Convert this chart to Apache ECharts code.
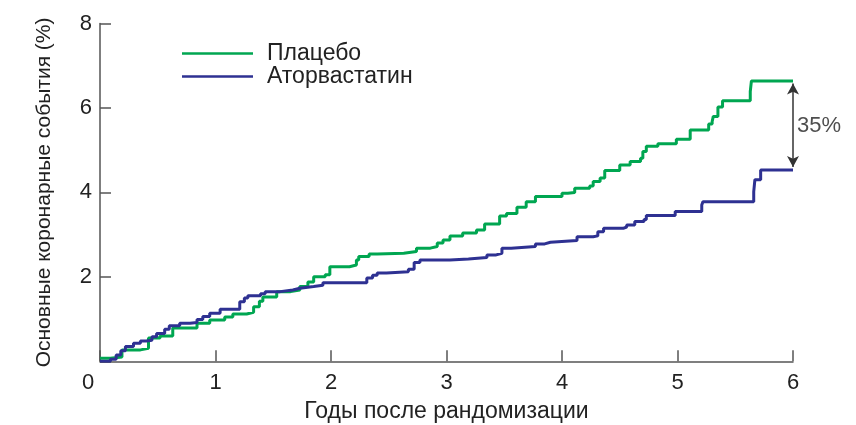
<!DOCTYPE html>
<html>
<head>
<meta charset="utf-8">
<script src="https://cdn.jsdelivr.net/npm/echarts@6/dist/echarts.min.js"></script>
<style>html,body{margin:0;padding:0;background:#fff}#c{width:856px;height:425px}</style>
</head>
<body>
<div id="c"></div>
<script>
const seriesNames = ['Плацебо', 'Аторвастатин'];
const xTicks = [0, 1, 2, 3, 4, 5, 6];
const yTicks = [0, 2, 4, 6, 8];
const placebo = [[0,0.07],[0.09,0.1],[0.19,0.27],[0.35,0.31],[0.42,0.55],[0.52,0.6],[0.63,0.79],[0.84,0.9],[0.95,0.98],[1.08,1.05],[1.15,1.12],[1.27,1.16],[1.33,1.29],[1.38,1.42],[1.41,1.52],[1.53,1.65],[1.65,1.69],[1.73,1.77],[1.8,1.88],[1.85,2.0],[1.95,2.05],[1.99,2.24],[2.16,2.28],[2.22,2.4],[2.24,2.48],[2.33,2.54],[2.4,2.56],[2.63,2.6],[2.74,2.68],[2.86,2.72],[2.92,2.8],[2.97,2.87],[3.03,2.97],[3.14,3.04],[3.26,3.11],[3.33,3.25],[3.46,3.44],[3.52,3.5],[3.61,3.65],[3.69,3.78],[3.77,3.9],[4.0,3.98],[4.05,4.0],[4.11,4.1],[4.24,4.15],[4.27,4.26],[4.33,4.34],[4.37,4.52],[4.5,4.65],[4.59,4.73],[4.68,4.81],[4.7,4.97],[4.73,5.09],[4.83,5.15],[4.99,5.26],[5.11,5.48],[5.27,5.62],[5.3,5.68],[5.31,5.8],[5.35,6.02],[5.39,6.17],[5.63,6.39],[5.64,6.64],[6.0,6.64]];
const atorvastatin = [[0,0],[0.09,0.05],[0.14,0.15],[0.18,0.25],[0.22,0.35],[0.29,0.43],[0.35,0.48],[0.4,0.5],[0.45,0.58],[0.49,0.66],[0.56,0.76],[0.6,0.84],[0.69,0.9],[0.78,0.92],[0.84,0.99],[0.89,1.06],[0.95,1.14],[1.04,1.23],[1.21,1.41],[1.25,1.5],[1.28,1.55],[1.39,1.6],[1.43,1.65],[1.56,1.69],[1.67,1.73],[1.73,1.77],[1.85,1.8],[1.93,1.86],[2.31,1.97],[2.36,2.04],[2.4,2.09],[2.48,2.12],[2.67,2.18],[2.72,2.34],[2.77,2.4],[3.03,2.42],[3.19,2.46],[3.35,2.52],[3.43,2.56],[3.48,2.68],[3.56,2.72],[3.77,2.78],[3.85,2.82],[3.9,2.86],[4.13,2.95],[4.27,2.97],[4.31,3.07],[4.36,3.15],[4.53,3.18],[4.56,3.23],[4.63,3.31],[4.71,3.36],[4.73,3.45],[4.98,3.55],[5.21,3.7],[5.22,3.78],[5.66,4.02],[5.67,4.3],[5.72,4.53],[6.0,4.53]];
const gapArrow = [[6, 6.58], [6, 4.6]];
const gapLabel = [[6, 5.58, '35%']];

const FONT = '"Liberation Sans", Arial, Helvetica, sans-serif';
const TXT = '#222';
const chart = echarts.init(document.getElementById('c'));
chart.setOption({
  animation: false,
  backgroundColor: '#fff',
  textStyle: { fontFamily: FONT },
  grid: { left: 100, right: 63, top: 23.5, bottom: 63.7, containLabel: false, outerBoundsMode: 'none' },
  legend: {
    orient: 'vertical', left: 177, top: 37,
    itemWidth: 71, itemHeight: 2.5, itemGap: 0,
    icon: 'rect',
    textStyle: { fontSize: 23, color: TXT, fontFamily: FONT, padding: [0, 0, 0, 9] },
    data: seriesNames
  },
  xAxis: {
    type: 'value', min: xTicks[0], max: xTicks[xTicks.length - 1], interval: 1,
    name: 'Годы после рандомизации', nameLocation: 'middle', nameGap: 39,
    nameTextStyle: { fontSize: 23, color: TXT, fontFamily: FONT },
    axisLine: { show: true, lineStyle: { color: '#555', width: 1.5 } },
    axisTick: { show: true, inside: true, length: 11, lineStyle: { color: '#555', width: 1.5 } },
    axisLabel: {
      fontSize: 22, color: TXT, margin: 11, fontFamily: FONT,
      formatter: v => v === 0 ? '{z|0}' : String(v),
      rich: { z: { fontSize: 22, color: TXT, fontFamily: FONT, padding: [0, 24, 0, 0] } }
    },
    splitLine: { show: false }
  },
  yAxis: {
    type: 'value', min: yTicks[0], max: yTicks[yTicks.length - 1], interval: 2,
    name: 'Основные коронарные события (%)', nameLocation: 'middle', nameGap: 45,
    nameTextStyle: { fontSize: 21, color: TXT, fontFamily: FONT },
    axisLine: { show: true, lineStyle: { color: '#555', width: 1.5 } },
    axisTick: { show: true, inside: true, length: 11, lineStyle: { color: '#555', width: 1.5 } },
    axisLabel: { fontSize: 22, color: TXT, margin: 8, fontFamily: FONT, formatter: v => v === 0 ? '' : String(v) },
    splitLine: { show: false }
  },
  series: [
    {
      name: seriesNames[0], type: 'line', step: 'end', data: placebo,
      showSymbol: false, symbol: 'none', color: '#00a651',
      lineStyle: { width: 3, color: '#00a651' }
    },
    {
      name: seriesNames[1], type: 'line', step: 'end', data: atorvastatin,
      showSymbol: false, symbol: 'none', color: '#2e3192',
      lineStyle: { width: 3, color: '#2e3192' },
      markLine: {
        silent: true, symbol: ['arrow', 'arrow'], symbolSize: [9, 11],
        label: { show: false },
        lineStyle: { color: '#333', width: 1.5, type: 'solid' },
        data: [[{ coord: gapArrow[0] }, { coord: gapArrow[1] }]]
      }
    },
    {
      name: 'gap', type: 'scatter', data: gapLabel, symbolSize: 0,
      silent: true,
      label: { show: true, position: 'right', distance: 4, formatter: p => p.data[2], fontSize: 22, color: TXT, fontFamily: FONT }
    }
  ]
});
</script>
</body>
</html>
